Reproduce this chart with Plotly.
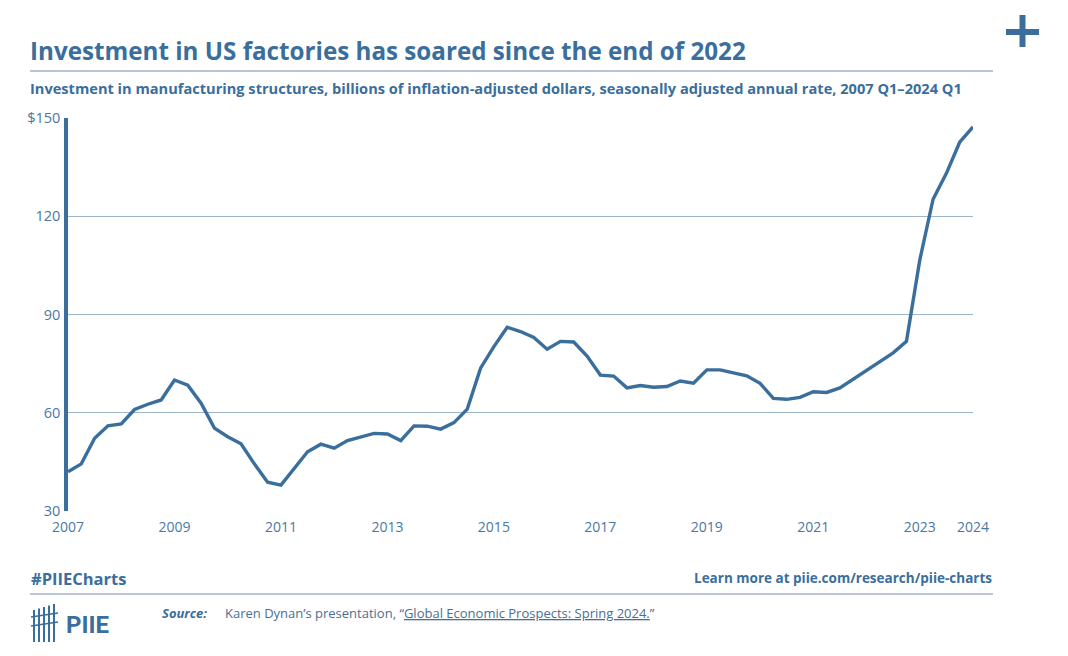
import plotly.graph_objects as go

# Data: quarterly, 2007 Q1 - 2024 Q1
start_year = 2007
values = [
    42.0, 44.4, 52.2, 56.0,
    56.6, 61.0, 62.6, 63.9,
    70.0, 68.4, 62.9, 55.3,
    52.7, 50.5, 44.4, 38.8,
    37.9, 43.0, 48.1, 50.4,
    49.2, 51.5, 52.6, 53.7,
    53.5, 51.5, 56.0, 55.9,
    55.0, 57.0, 61.1, 73.6,
    80.2, 86.1, 84.8, 83.0,
    79.4, 81.8, 81.6, 77.3,
    71.5, 71.2, 67.6, 68.3,
    67.8, 68.0, 69.7, 69.0,
    73.1, 73.1, 72.2, 71.3,
    69.0, 64.4, 64.1, 64.7,
    66.4, 66.2, 67.6, 70.3,
    72.7, 75.6, 78.3, 81.8,
    106.6, 125.2, 133.1, 142.6,
    147.3,
]
x_ticks = [2007, 2009, 2011, 2013, 2015, 2017, 2019, 2021, 2023, 2024]
y_ticks = [30, 60, 90, 120, 150]
y_tick_labels = ["30", "60", "90", "120", "$150"]

x = [start_year + i * 0.25 for i in range(len(values))]

BLUE = "#3a6e9c"
TICK = "#4a78a6"
GRID = "#9db5cb"
FONT = "Open Sans"

W, H = 1068, 656
OFF = 8  # page body margin offset
L, R, T, B = 68, 973, 118, 511  # target pixel positions on page

fig = go.Figure()
fig.add_trace(go.Scatter(
    x=x, y=values, mode="lines",
    line=dict(color=BLUE, width=3.4),
    hoverinfo="skip", showlegend=False,
))

fig.update_layout(
    width=W, height=H,
    margin=dict(l=L - OFF, r=W - (R - OFF), t=T - OFF, b=H - (B - OFF)),
    paper_bgcolor="white", plot_bgcolor="white",
    font=dict(family=FONT, color=TICK),
    xaxis=dict(
        range=[2007, 2024], tickvals=x_ticks, ticktext=[str(v) for v in x_ticks],
        showgrid=False, zeroline=False, showline=False,
        tickfont=dict(size=14, color=TICK), ticks="", ticklen=0,
        ticklabelstandoff=6,
    ),
    yaxis=dict(
        range=[30, 150], tickvals=y_ticks, ticktext=y_tick_labels,
        showgrid=True, gridcolor=GRID, gridwidth=1, zeroline=False,
        showline=True, linecolor=BLUE, linewidth=3.5,
        tickfont=dict(size=14.5, color=TICK), ticks="", ticklabelstandoff=1,
    ),
)


def px_x(p):
    return (p - L) / (R - L)


def px_y(p):
    return (B - p) / (B - T)


# Title
fig.add_annotation(
    text="<b>Investment in US factories has soared since the end of 2022</b>",
    xref="paper", yref="paper", x=px_x(28), y=px_y(50),
    xanchor="left", yanchor="middle", showarrow=False,
    font=dict(size=24.2, color=BLUE, family=FONT),
)
# Subtitle
fig.add_annotation(
    text="<b>Investment in manufacturing structures, billions of inflation-adjusted dollars, seasonally adjusted annual rate, 2007 Q1–2024 Q1</b>",
    xref="paper", yref="paper", x=px_x(28), y=px_y(88),
    xanchor="left", yanchor="middle", showarrow=False,
    font=dict(size=14.6, color=BLUE, family=FONT),
)

# separator lines
for yy in (71, 594):
    fig.add_shape(type="line", xref="paper", yref="paper",
                  x0=px_x(30), x1=px_x(993), y0=px_y(yy), y1=px_y(yy),
                  line=dict(color=GRID, width=1.5))

# plus sign
fig.add_shape(type="rect", xref="paper", yref="paper",
              x0=px_x(1006), x1=px_x(1039), y0=px_y(29), y1=px_y(35),
              fillcolor=BLUE, line_width=0)
fig.add_shape(type="rect", xref="paper", yref="paper",
              x0=px_x(1019.5), x1=px_x(1025.5), y0=px_y(15), y1=px_y(47),
              fillcolor=BLUE, line_width=0)

# footer
fig.add_annotation(
    text="<b>#PIIECharts</b>", xref="paper", yref="paper",
    x=px_x(29), y=px_y(578), xanchor="left", yanchor="middle", showarrow=False,
    font=dict(size=16.5, color=BLUE, family=FONT),
)
fig.add_annotation(
    text="<b>Learn more at piie.com/research/piie-charts</b>", xref="paper", yref="paper",
    x=px_x(994), y=px_y(578), xanchor="right", yanchor="middle", showarrow=False,
    font=dict(size=13.5, color=BLUE, family=FONT),
)
fig.add_annotation(
    text="<b><i>Source:</i></b>", xref="paper", yref="paper",
    x=px_x(160), y=px_y(613), xanchor="left", yanchor="middle", showarrow=False,
    font=dict(size=13, color=BLUE, family=FONT),
)
fig.add_annotation(
    text="Karen Dynan’s presentation, “<u>Global Economic Prospects: Spring 2024.</u>”",
    xref="paper", yref="paper",
    x=px_x(223), y=px_y(613), xanchor="left", yanchor="middle", showarrow=False,
    font=dict(size=13, color="#4a6f94", family=FONT),
)

# PIIE logo (approximation)
for xx in (34, 39, 44, 49, 54):
    fig.add_shape(type="line", xref="paper", yref="paper",
                  x0=px_x(xx), x1=px_x(xx), y0=px_y(604 + (54 - xx) * 0.3), y1=px_y(642),
                  line=dict(color=BLUE, width=2))
for yy in (617, 626):
    fig.add_shape(type="line", xref="paper", yref="paper",
                  x0=px_x(31), x1=px_x(58), y0=px_y(yy), y1=px_y(yy - 4),
                  line=dict(color=BLUE, width=1.5))
fig.add_annotation(
    text="<b>PIIE</b>", xref="paper", yref="paper",
    x=px_x(64), y=px_y(625), xanchor="left", yanchor="middle", showarrow=False,
    font=dict(size=24, color=BLUE, family="Roboto"),
)

fig.write_html("out.html")
